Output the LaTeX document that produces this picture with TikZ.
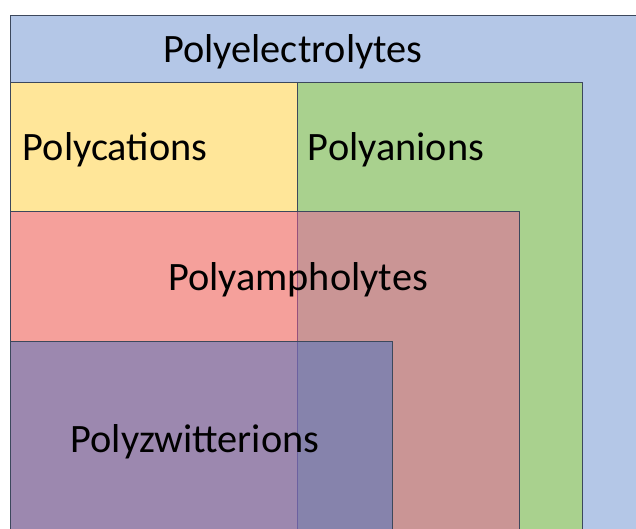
\documentclass[tikz,border=0pt]{standalone}
\usepackage{fontspec}
\setmainfont{Carlito}
\definecolor{elecblue}{RGB}{180,199,231}
\definecolor{catyellow}{RGB}{255,230,153}
\definecolor{angreen}{RGB}{169,209,142}
\definecolor{amphred}{RGB}{236,91,157}
\definecolor{zwitblue}{RGB}{68,114,196}
\definecolor{edgegrey}{RGB}{60,72,92}
\begin{document}
\begin{tikzpicture}[x=1pt,y=-1pt,
  box/.style={draw=edgegrey,line width=0.8pt},
  lbl/.style={anchor=base,inner sep=0pt,font=\fontsize{40.3}{44}\selectfont}]
\clip (0,0) rectangle (636,528);
\draw[box,fill=elecblue] (10,15) rectangle (660,560);
\draw[box,fill=catyellow] (10,82) rectangle (297,560);
\draw[box,fill=angreen] (297,82) rectangle (582,560);
\draw[box,fill=amphred,fill opacity=0.5] (10,211) rectangle (519,560);
\draw[box,fill=zwitblue,fill opacity=0.5] (10,341) rectangle (392,560);
\node[lbl] (elec) at (293,62) {Polyelectrolytes};
\node[lbl] (cat) at (115,160) {Polycations};
\node[lbl] (an) at (396,160) {Polyanions};
\node[lbl] (amph) at (298,290) {Polyampholytes};
\node[lbl] (zwit) at (195,452) {Polyzwitterions};
\end{tikzpicture}
\end{document}
